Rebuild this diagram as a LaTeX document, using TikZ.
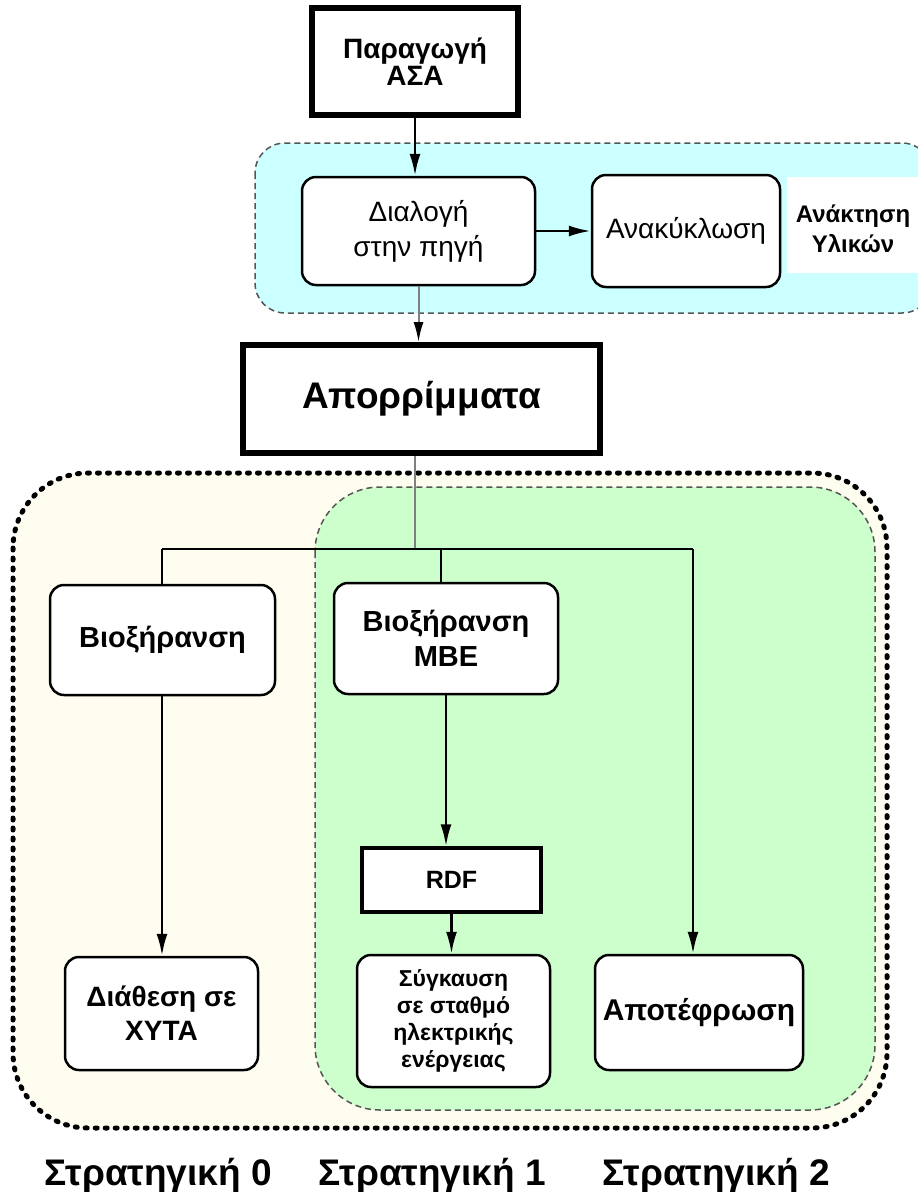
\documentclass[tikz,border=0pt]{standalone}
\usepackage{fontspec}
\setmainfont{Liberation Sans}
\usetikzlibrary{arrows.meta}
\definecolor{cyanfill}{HTML}{CCFFFF}
\definecolor{greenfill}{HTML}{CCFFCC}
\definecolor{creamfill}{HTML}{FFFCF0}
\definecolor{dashgray}{HTML}{555555}
\definecolor{linegray}{HTML}{808080}
\tikzset{
  thickbox/.style={draw=black, line width=6pt, fill=white, inner sep=0pt, align=center, font=\bfseries\fontsize{28}{27}\selectfont},
  roundbox/.style={draw=black, line width=2.5pt, fill=white, rounded corners=14pt, inner sep=0pt, align=center},
  rdfbox/.style={draw=black, line width=3.5pt, fill=white, inner sep=0pt, align=center},
  conn/.style={draw=black, line width=2.5pt},
  arr/.style={conn, -{Latex[length=22pt,width=11pt]}},
  grayarr/.style={draw=linegray, line width=2pt, -{Latex[length=20pt,width=10pt,color=black]}},
  regionedge/.style={draw=dashgray, line width=1.5pt, dash pattern=on 6pt off 4pt},
  strat/.style={anchor=base, font=\bfseries\fontsize{37}{37}\selectfont}
}
\begin{document}
\begin{tikzpicture}[x=1pt,y=-1pt]
\clip (0,0) rectangle (918,1192);
\fill[white] (0,0) rectangle (918,1192);

% regions
\draw[regionedge, fill=cyanfill, rounded corners=30pt] (255,143) rectangle (932,313);
\draw[fill=creamfill, line width=5pt, line cap=round, dash pattern=on 2pt off 8pt, rounded corners=75pt] (13,473) rectangle (887,1128);
\draw[regionedge, fill=greenfill, rounded corners=65pt] (315,487) rectangle (875,1110);

% nodes
\node[thickbox, minimum width=206pt, minimum height=107pt] (parag) at (415,61.5) {Παραγωγή\\ΑΣΑ};
\node[roundbox, minimum width=233pt, minimum height=108pt, font=\fontsize{28}{35}\selectfont] (dial) at (418.5,231) {Διαλογή\\στην πηγή};
\node[roundbox, minimum width=188pt, minimum height=112pt, font=\fontsize{28}{34}\selectfont] (anak) at (686,231) {Ανακύκλωση};
\node[fill=white, inner sep=0pt, minimum width=145pt, minimum height=96pt, anchor=north west, align=center] (anakt) at (787,177) {};
\node[align=center, font=\bfseries\fontsize{24}{30}\selectfont] (anakttxt) at (853,229) {Ανάκτηση\\Υλικών};
\node[thickbox, minimum width=357pt, minimum height=108pt, font=\bfseries\fontsize{37}{37}\selectfont] (apor) at (421.5,399) {Απορρίμματα};

\node[roundbox, minimum width=225pt, minimum height=110pt, font=\bfseries\fontsize{29}{34}\selectfont] (bio) at (162.5,640) {Βιοξήρανση};
\node[roundbox, minimum width=224pt, minimum height=111pt, font=\bfseries\fontsize{29}{35}\selectfont] (mbe) at (446,638.5) {Βιοξήρανση\\ΜΒΕ};
\node[rdfbox, minimum width=179pt, minimum height=64pt, font=\bfseries\fontsize{25}{30}\selectfont] (rdf) at (451.5,880) {RDF};
\node[roundbox, minimum width=193pt, minimum height=113pt, font=\bfseries\fontsize{28}{34}\selectfont] (dia) at (161.5,1013.5) {Διάθεση σε\\ΧΥΤΑ};
\node[roundbox, minimum width=193pt, minimum height=132pt, font=\bfseries\fontsize{23}{27}\selectfont] (syg) at (453.5,1021) {Σύγκαυση\\σε σταθμό\\ηλεκτρικής\\ενέργειας};
\node[roundbox, minimum width=208pt, minimum height=115pt, font=\bfseries\fontsize{30}{34}\selectfont] (apot) at (699,1012.5) {Αποτέφρωση};

% labels
\node[strat] (s0) at (158,1185) {Στρατηγική 0};
\node[strat] (s1) at (432,1185) {Στρατηγική 1};
\node[strat] (s2) at (716,1185) {Στρατηγική 2};

% connectors
\draw[arr] (parag.south) -- (parag.south |- dial.north);
\draw[arr] (dial.east) -- (anak.west);
\draw[grayarr] (dial.south) -- (dial.south |- apor.north);

\coordinate (j) at (415,549);
\coordinate (bl) at (162,549);
\coordinate (bm) at (441,549);
\coordinate (br) at (693,549);
\draw[draw=linegray, line width=1.5pt] (apor.south -| j) -- (j);
\draw[conn] (bl) -- (br);
\draw[conn] (bl) -- (bl |- bio.north);
\draw[conn] (bm) -- (bm |- mbe.north);
\draw[arr] (br) -- (br |- apot.north);
\draw[arr] (bio.south -| bl) -- (bl |- dia.north);
\draw[arr] (mbe.south) -- (mbe.south |- rdf.north);
\draw[arr] (rdf.south) -- (rdf.south |- syg.north);
\end{tikzpicture}
\end{document}
